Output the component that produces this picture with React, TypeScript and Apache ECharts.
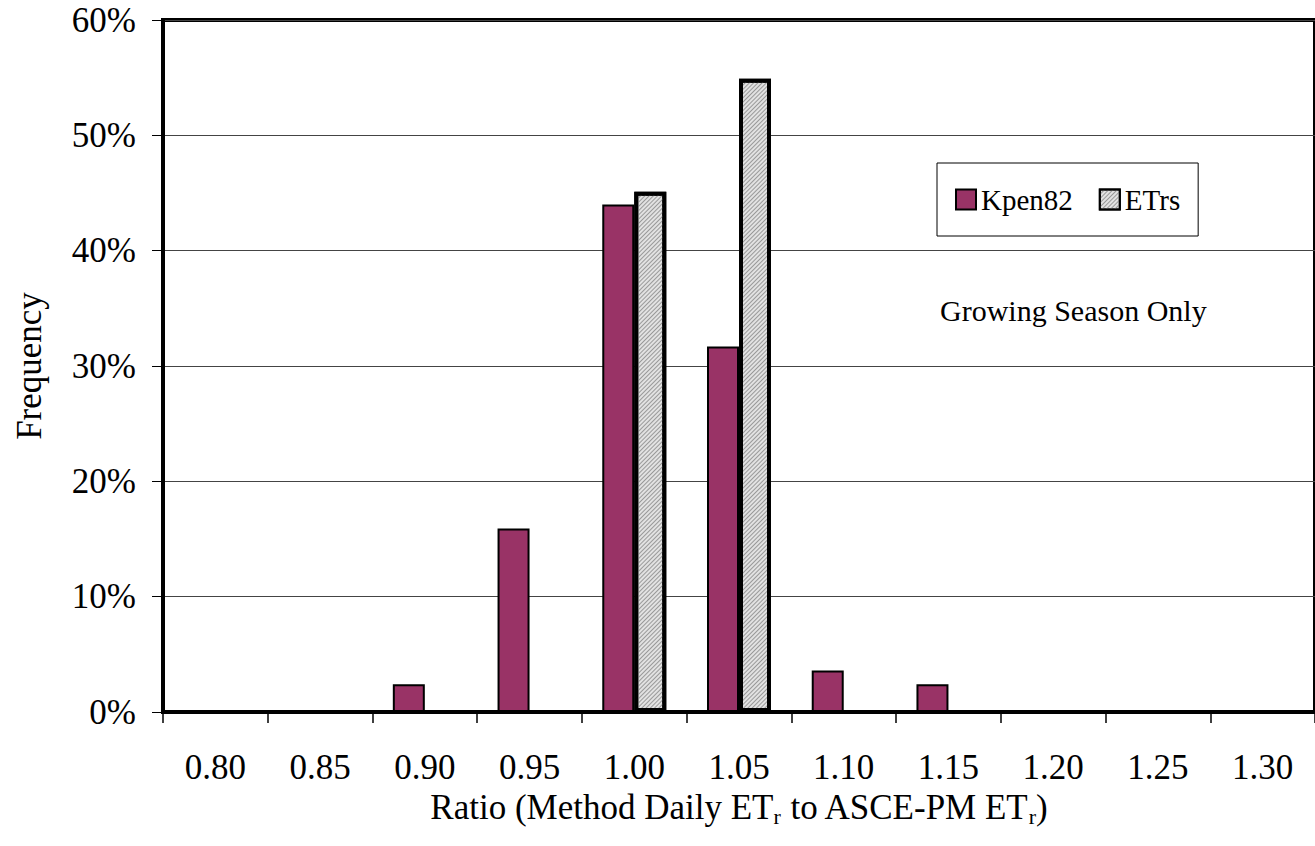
import React, { useEffect, useRef } from "react";
import * as echarts from "echarts";

const categories = ["0.80", "0.85", "0.90", "0.95", "1.00", "1.05", "1.10", "1.15", "1.20", "1.25", "1.30"];
const kpen82 = [0, 0, 2.4, 15.9, 44.0, 31.7, 3.6, 2.4, 0, 0, 0];
const etrs = [0, 0, 0, 0, 45.1, 54.9, 0, 0, 0, 0, 0];
const yTicks = { min: 0, max: 60, interval: 10 };

const FONT = "'Liberation Serif', 'Times New Roman', serif";

export default function App() {
  const ref = useRef<HTMLDivElement>(null);
  useEffect(() => {
    if (!ref.current) return;
    const chart = echarts.init(ref.current, null, { renderer: "svg" });
    chart.setOption({
      animation: false,
      backgroundColor: "#fff",
      textStyle: { fontFamily: FONT, color: "#000" },
      grid: {
        left: 163,
        right: -8,
        top: 20,
        bottom: 134,
        show: true,
        borderColor: "#000",
        borderWidth: 4,
      },
      legend: {
        left: 937,
        top: 163,
        orient: "horizontal",
        padding: [22, 18, 22, 18],
        itemGap: 26,
        itemWidth: 20,
        itemHeight: 20,
        icon: "rect",
        borderColor: "#000",
        borderWidth: 1,
        backgroundColor: "#fff",
        textStyle: { fontFamily: FONT, fontSize: 29, color: "#000" },
        data: ["Kpen82", "ETrs"],
      },
      xAxis: {
        type: "category",
        data: categories,
        boundaryGap: true,
        axisLine: { show: true, lineStyle: { color: "#000", width: 4 } },
        axisTick: { show: true, length: 11, lineStyle: { color: "#000", width: 1.5 } },
        axisLabel: { fontFamily: FONT, fontSize: 35, color: "#000", margin: 38 },
        name: "{a|Ratio (Method Daily ET}{s|r}{a| to ASCE-PM ET}{s|r}{a|)}",
        nameLocation: "middle",
        nameGap: 60,
        nameTextStyle: {
          rich: {
            a: { fontFamily: FONT, fontSize: 35, color: "#000", lineHeight: 40, verticalAlign: "middle" },
            s: { fontFamily: FONT, fontSize: 22, color: "#000", lineHeight: 20, verticalAlign: "bottom" },
          },
        },
      },
      yAxis: {
        type: "value",
        min: yTicks.min,
        max: yTicks.max,
        interval: yTicks.interval,
        axisLine: { show: true, lineStyle: { color: "#000", width: 4 } },
        axisTick: { show: true, length: 11, lineStyle: { color: "#000", width: 1 } },
        axisLabel: { fontFamily: FONT, fontSize: 35, color: "#000", margin: 27, formatter: "{value}%" },
        splitLine: { show: true, lineStyle: { color: "#444", width: 1 } },
        name: "Frequency",
        nameLocation: "middle",
        nameGap: 116,
        nameTextStyle: { fontFamily: FONT, fontSize: 35, color: "#000" },
      },
      series: [
        {
          name: "Kpen82",
          type: "bar",
          data: kpen82,
          barWidth: 32,
          barGap: "0%",
          itemStyle: { color: "#993366", borderColor: "#000", borderWidth: 2 },
        },
        {
          name: "ETrs",
          type: "bar",
          data: etrs,
          barWidth: 32,
          barGap: "0%",
          itemStyle: {
            color: "#e2e2e2",
            borderColor: "#000",
            borderWidth: 4,
            decal: {
              symbol: "rect",
              symbolSize: 1,
              dashArrayX: [1, 0],
              dashArrayY: [1, 1.5],
              rotation: -Math.PI / 4,
              color: "#999999",
            },
          },
        },
      ],
      graphic: [
        {
          type: "text",
          left: 940,
          top: 295,
          style: { text: "Growing Season Only", fontFamily: FONT, fontSize: 30, fill: "#000" },
        },
      ],
    });
    return () => chart.dispose();
  }, []);
  return <div ref={ref} style={{ position: "fixed", left: 0, top: 0, width: 1315, height: 846 }} />;
}
